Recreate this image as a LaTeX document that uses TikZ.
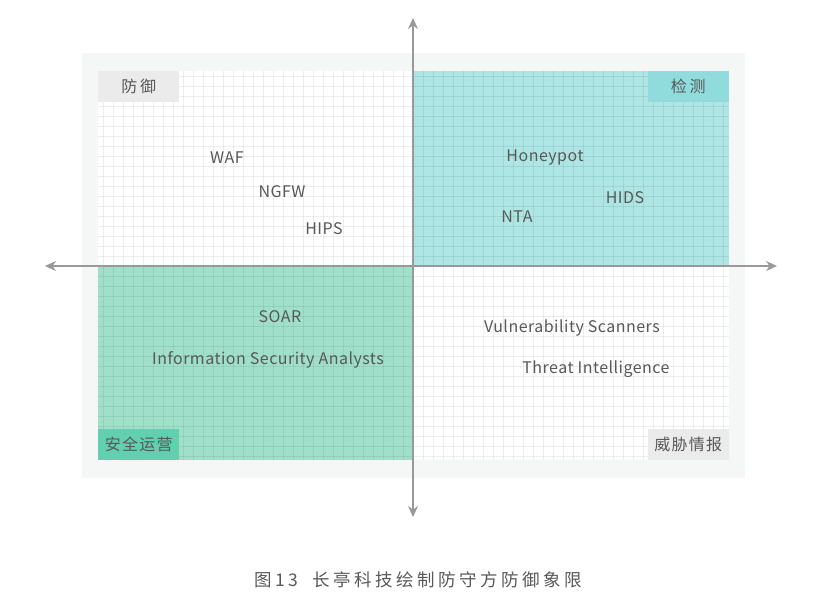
\documentclass[tikz,border=0pt]{standalone}
\usepackage{fontspec}
\setmainfont{Noto Sans CJK SC}
\newfontfamily\spacedfont[LetterSpace=20]{Noto Sans CJK SC}
\newfontfamily\cornerfont[LetterSpace=8]{Noto Sans CJK SC}
\newfontfamily\itemfont[LetterSpace=3]{Noto Sans CJK SC}
\usetikzlibrary{arrows.meta}
\definecolor{panelgray}{HTML}{F5F6F6}
\definecolor{cyanfill}{HTML}{AEE6E5}
\definecolor{greenfill}{HTML}{A0E0CB}
\definecolor{cyanbox}{HTML}{90DCDC}
\definecolor{greenbox}{HTML}{62CFAF}
\definecolor{graybox}{HTML}{EBEBEB}
\definecolor{axisgray}{HTML}{999999}
\definecolor{textgray}{HTML}{585858}
\tikzset{
  item/.style={font=\itemfont\fontsize{16}{18}\selectfont,text=textgray,inner sep=0pt},
  corner/.style={font=\cornerfont\fontsize{16}{18}\selectfont,text=textgray,minimum width=81pt,minimum height=31pt,inner sep=0pt}
}
\begin{document}
\begin{tikzpicture}[x=1pt,y=-1pt,>={Stealth[length=11pt,width=10pt]}]
  \useasboundingbox (0,0) rectangle (834,614);
  % Hintergrund
  \fill[panelgray] (82,53) rectangle (745,478);
  \fill[white] (98,71) rectangle (729,460);
  \fill[cyanfill] (413,71) rectangle (729,266);
  \fill[greenfill] (98,266) rectangle (413,460);
  % Gitter
  \draw[black,opacity=.07,line width=.8pt] \foreach\x in {103,113,...,723} { (\x,71)--(\x,460) };
  \draw[black,opacity=.07,line width=.8pt] \foreach\y in {76,86,...,456} { (98,\y)--(729,\y) };
  % Ecken
  \node[corner,fill=graybox,anchor=north west] (fangyu) at (98,71) {防\,御};
  \node[corner,fill=cyanbox,anchor=north east] (jiance) at (729,71) {检\,测};
  \node[corner,fill=greenbox,anchor=south west] (anquan) at (98,460) {安全运营};
  \node[corner,fill=graybox,anchor=south east] (weixie) at (729,460) {威胁情报};
  % Achsen
  \coordinate (xl) at (45,266);
  \coordinate (xr) at (777,266);
  \coordinate (yt) at (413,18);
  \coordinate (yb) at (413,517);
  \coordinate (o) at (413,266);
  \draw[axisgray,line width=1.2pt,->] (o)--(xl);
  \draw[axisgray,line width=1.2pt,->] (o)--(xr);
  \draw[axisgray,line width=1.2pt,->] (o)--(yt);
  \draw[axisgray,line width=1.2pt,->] (o)--(yb);
  % Eintraege
  \node[item] (waf) at (227,158) {WAF};
  \node[item] (ngfw) at (282,192) {NGFW};
  \node[item] (hips) at (324,229) {HIPS};
  \node[item] (honeypot) at (545,158) {Honeypot};
  \node[item] (hids) at (625,198) {HIDS};
  \node[item] (nta) at (517,217) {NTA};
  \node[item] (soar) at (280,317) {SOAR};
  \node[item] (isa) at (268,360) {Information Security Analysts};
  \node[item] (vuln) at (572,328) {Vulnerability Scanners};
  \node[item] (ti) at (596,369) {Threat Intelligence};
  % Bildunterschrift
  \node[text=textgray,inner sep=0pt,font=\spacedfont\fontsize{17.5}{19}\selectfont] (caption) at (418,580) {图13\hspace{14pt}长亭科技绘制防守方防御象限};
\end{tikzpicture}
\end{document}
